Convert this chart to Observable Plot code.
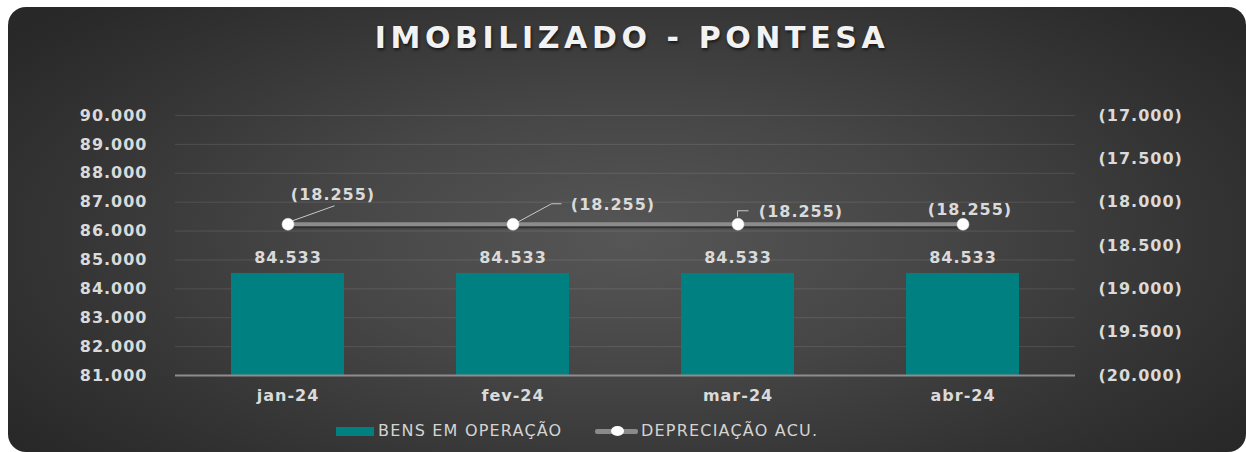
<!DOCTYPE html>
<html>
<head>
<meta charset="utf-8">
<script src="https://cdn.jsdelivr.net/npm/d3@7"></script>
<script src="https://cdn.jsdelivr.net/npm/@observablehq/plot@0.6"></script>
<style>
  html, body { margin: 0; padding: 0; background: #ffffff; width: 1246px; height: 452px; overflow: hidden; }
  #page { position: relative; width: 1246px; height: 452px; }
  #card {
    position: absolute; left: 8px; top: 7px; width: 1238px; height: 445px;
    border-radius: 18px;
    background: radial-gradient(ellipse 62% 75% at 50% 52%, #565656 0%, #464646 40%, #343434 75%, #282828 100%);
  }
  #title {
    position: absolute; left: 0; top: 23px; width: 1264px; text-align: center;
    font-family: "DejaVu Sans", sans-serif; font-weight: bold; font-size: 30px; line-height: 30px;
    letter-spacing: 4.6px; color: #f2f2f2;
    text-shadow: 1px 2px 3px rgba(0,0,0,0.6);
  }
  #chart { position: absolute; left: 0; top: 85px; }
  .legend { position: absolute; top: 421px; height: 20px; font-family: "DejaVu Sans", sans-serif; font-size: 16px; letter-spacing: 1.2px; color: #d4d4d4; line-height: 20px; white-space: nowrap; }
  .swatch { position: absolute; left: 336px; top: 427px; width: 38px; height: 9px; background: #008080; }
  .lline { position: absolute; left: 595px; top: 429px; width: 43px; height: 5px; background: #8a8a8a; border-radius: 2px; }
  .ldot { position: absolute; left: 611px; top: 426px; width: 13px; height: 10px; background: #ffffff; border-radius: 50%; }
</style>
</head>
<body>
<div id="page">
  <div id="card"></div>
  <div id="title">IMOBILIZADO - PONTESA</div>
  <div id="chart"></div>
  <div class="swatch"></div>
  <div class="legend" style="left:378px">BENS EM OPERAÇÃO</div>
  <div class="lline"></div>
  <div class="ldot"></div>
  <div class="legend" style="left:641px">DEPRECIAÇÃO ACU.</div>
</div>
<script>
// ---- data ----
const months = ["jan-24", "fev-24", "mar-24", "abr-24"];
const bensEmOperacao = [84533, 84533, 84533, 84533];
const depreciacaoAcu = [-18255, -18255, -18255, -18255];
const leftTicks = [81000, 82000, 83000, 84000, 85000, 86000, 87000, 88000, 89000, 90000];
const rightTicks = [-20000, -19500, -19000, -18500, -18000, -17500, -17000];

// ---- styling constants (label placement, px offsets from each point) ----
const depLabelOffsets = [[45, -29], [100, -19], [63, -12], [7, -14]];
const depLeaders = [
  [[5, -3], [47, -18]],
  [[4, -1], [39, -20], [49, -20]],
  [[0, -7], [0, -13], [11, -13]],
  []
];

const L0 = d3.min(leftTicks), L1 = d3.max(leftTicks);
const R0 = d3.min(rightTicks), R1 = d3.max(rightTicks);
const toPrimary = v => L0 + (v - R0) * (L1 - L0) / (R1 - R0);
const toSecondary = p => R0 + (p - L0) * (R1 - R0) / (L1 - L0);

const fmt = v => d3.format(",.0f")(v).replace(/,/g, ".");
const fmtNeg = v => "(" + fmt(Math.abs(v)) + ")";

const data = months.map((m, i) => ({
  month: m,
  bens: bensEmOperacao[i],
  dep: depreciacaoAcu[i],
  depP: toPrimary(depreciacaoAcu[i])
}));

const labelColor = "#dadada";

const leaderMark = (index, scales) => {
  const g = d3.create("svg:g");
  const bw = scales.x.bandwidth();
  data.forEach((d, i) => {
    const pts = depLeaders[i];
    if (!pts.length) return;
    const cx = scales.x(d.month) + bw / 2;
    const cy = scales.y(d.depP);
    g.append("path")
      .attr("d", d3.line()(pts.map(([dx, dy]) => [cx + dx, cy + dy])))
      .attr("fill", "none")
      .attr("stroke", "#c8c8c8")
      .attr("stroke-width", 1);
  });
  return g.node();
};

const labelMarks = data.map((d, i) => Plot.text([d], {
  x: "month", y: "depP", text: d => fmtNeg(d.dep),
  dx: depLabelOffsets[i][0], dy: depLabelOffsets[i][1],
  fill: labelColor, fontWeight: "bold", fontSize: 16
}));

const plot = Plot.plot({
  width: 1246,
  height: 320,
  marginLeft: 175,
  marginRight: 171,
  marginTop: 30,
  marginBottom: 30,
  style: {
    background: "transparent",
    color: labelColor,
    fontFamily: "DejaVu Sans, sans-serif",
    fontSize: "16px",
    fontWeight: "bold",
    letterSpacing: "1px",
    overflow: "visible"
  },
  x: { type: "band", domain: months, paddingInner: 0.5, paddingOuter: 0.25, label: null },
  y: { domain: [L0, L1], label: null },
  marks: [
    Plot.ruleY(leftTicks.filter(t => t > L0), { stroke: "#ffffff", strokeOpacity: 0.11, strokeWidth: 1 }),
    Plot.barY(data, { x: "month", y1: L0, y2: "bens", fill: "#008080" }),
    Plot.ruleY([L0], { stroke: "#8d8d8d", strokeWidth: 2 }),
    Plot.axisY(leftTicks, { anchor: "left", tickSize: 0, tickPadding: 28, tickFormat: fmt, fill: labelColor }),
    Plot.axisY(rightTicks.map(toPrimary), { anchor: "right", tickSize: 0, tickPadding: 23, tickFormat: p => fmtNeg(Math.round(toSecondary(p))), fill: labelColor }),
    Plot.axisX({ tickSize: 0, tickPadding: 14, fill: labelColor }),
    Plot.text(data, { x: "month", y: "bens", text: d => fmt(d.bens), dy: -16, fill: labelColor, fontWeight: "bold", fontSize: 16 }),
    Plot.line(data, { x: "month", y: "depP", stroke: "#262626", strokeOpacity: 0.7, strokeWidth: 4, dy: 2 }),
    Plot.line(data, { x: "month", y: "depP", stroke: "#8c8c8c", strokeWidth: 4 }),
    leaderMark,
    Plot.dot(data, { x: "month", y: "depP", r: 6, fill: "#ffffff", stroke: "#e0e0e0", strokeWidth: 0.5 }),
    ...labelMarks
  ]
});

document.getElementById("chart").appendChild(plot);
</script>
</body>
</html>
